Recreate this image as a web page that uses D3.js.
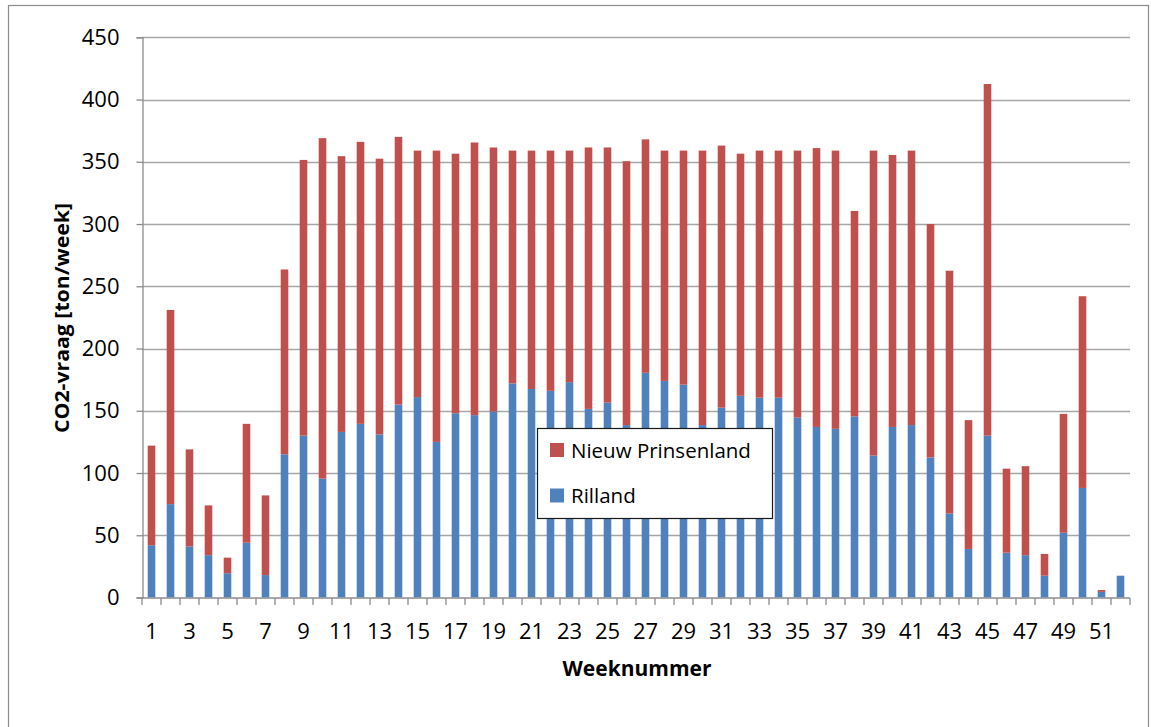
<!DOCTYPE html>
<html>
<head>
<meta charset="utf-8">
<script src="https://cdn.jsdelivr.net/npm/d3@7"></script>
<style>
  html, body { margin: 0; padding: 0; background: #fff; }
  svg { display: block; }
  text { font-family: "Open Sans", "Noto Sans", sans-serif; fill: #000; }
</style>
</head>
<body>
<svg id="chart" width="1151" height="727"></svg>
<script>
// Weekly CO2 demand (ton/week) per location, weeks 1..52
const weeks = d3.range(1, 53);
const rilland = [42, 75, 41, 34, 19.5, 44, 18, 115, 130, 95.5, 133, 139.5, 131, 155, 161, 125, 148, 146.5, 149.5, 172,
                 167.5, 166, 173, 151.5, 156.5, 138.5, 180.5, 174, 171, 138.5, 152.5, 162, 160.5, 160.5, 144.5, 137, 135.5, 145.5, 114, 137,
                 138.5, 112.5, 67.5, 39, 130, 36, 34, 17.5, 52, 88, 4.5, 17.5];
const nieuwPrinsenland = [80, 156, 78, 40, 12.5, 95.5, 64, 148.5, 221.5, 273.5, 221.5, 226.5, 221.5, 215, 198, 234, 208.5, 219, 212, 187,
                          191.5, 193, 186, 210, 205, 212, 187.5, 185, 188, 220.5, 210.5, 194.5, 198.5, 198.5, 214.5, 224, 223.5, 165, 245, 218.5,
                          220.5, 187.5, 195, 103.5, 282.5, 67.5, 71.5, 17.5, 95.5, 154, 1.5, 0];
const yTicks = [0, 50, 100, 150, 200, 250, 300, 350, 400, 450];
const seriesNames = ["Rilland", "Nieuw Prinsenland"];
const seriesColors = ["#4F81BD", "#C0504D"];

const rows = weeks.map((w, i) => ({ week: w, "Rilland": rilland[i], "Nieuw Prinsenland": nieuwPrinsenland[i] }));
const stacked = d3.stack().keys(seriesNames)(rows);

const svg = d3.select("#chart");
const plot = { left: 142, right: 1130, top: 37.3, bottom: 597.5 };

// outer chart frame
svg.append("rect")
  .attr("x", 8.5).attr("y", 5.5).attr("width", 1140).attr("height", 740)
  .attr("fill", "none").attr("stroke", "#8c8c8c").attr("stroke-width", 1.2);

const x = d3.scaleBand().domain(weeks).range([plot.left, plot.right]).paddingInner(0.6).paddingOuter(0.3);
const y = d3.scaleLinear().domain([0, 450]).range([plot.bottom, plot.top]);
const step = x.step();

// horizontal gridlines
svg.append("g").selectAll("line").data(yTicks.filter(d => d > 0)).join("line")
  .attr("x1", plot.left).attr("x2", plot.right)
  .attr("y1", d => Math.round(y(d)) + 0.5).attr("y2", d => Math.round(y(d)) + 0.5)
  .attr("stroke", "#a6a6a6").attr("stroke-width", 1.3);

// stacked bars
svg.append("g").selectAll("g").data(stacked).join("g")
  .attr("fill", (d, i) => seriesColors[i])
  .selectAll("rect").data(d => d).join("rect")
  .attr("x", d => x(d.data.week))
  .attr("width", x.bandwidth())
  .attr("y", d => y(d[1]))
  .attr("height", d => Math.max(0, y(d[0]) - y(d[1])));

// y axis
const yAxis = d3.axisLeft(y).tickValues(yTicks).tickSize(6).tickPadding(17).tickFormat(d3.format("d"));
const gy = svg.append("g").attr("transform", `translate(${plot.left + 0.5},0)`).call(yAxis);
gy.select(".domain").attr("stroke", "#8c8c8c").attr("stroke-width", 1.3);
gy.selectAll(".tick line").attr("stroke", "#8c8c8c").attr("stroke-width", 1.3);
gy.selectAll(".tick text").attr("font-size", 22).attr("font-family", "Open Sans").attr("fill", "#000");

// x axis: labels on odd weeks, tick marks at category boundaries
const gx = svg.append("g").attr("transform", `translate(0,${plot.bottom + 0.5})`);
gx.append("line").attr("x1", plot.left).attr("x2", plot.right).attr("y1", 0).attr("y2", 0)
  .attr("stroke", "#8c8c8c").attr("stroke-width", 1.3);
gx.selectAll("line.tk").data(d3.range(0, 53)).join("line").attr("class", "tk")
  .attr("x1", i => plot.left + i * step).attr("x2", i => plot.left + i * step)
  .attr("y1", 0).attr("y2", 7)
  .attr("stroke", "#8c8c8c").attr("stroke-width", 1.3);
gx.selectAll("text").data(weeks.filter(w => w % 2 === 1)).join("text")
  .attr("x", w => x(w) + x.bandwidth() / 2)
  .attr("y", 41)
  .attr("text-anchor", "middle")
  .attr("font-size", 22)
  .text(d => d);

// axis titles
svg.append("text")
  .attr("transform", "translate(69,318) rotate(-90)")
  .attr("text-anchor", "middle")
  .attr("font-size", 20).attr("font-weight", "bold")
  .attr("textLength", 230).attr("lengthAdjust", "spacingAndGlyphs")
  .text("CO2-vraag [ton/week]");

svg.append("text")
  .attr("x", 637).attr("y", 676)
  .attr("text-anchor", "middle")
  .attr("font-size", 21).attr("font-weight", "bold")
  .text("Weeknummer");

// legend
const lg = svg.append("g");
lg.append("rect").attr("x", 537.5).attr("y", 428.5).attr("width", 235).attr("height", 90)
  .attr("fill", "#fff").attr("stroke", "#1a1a1a").attr("stroke-width", 1.2);
const legendItems = [
  { name: "Nieuw Prinsenland", color: seriesColors[1], yc: 450 },
  { name: "Rilland", color: seriesColors[0], yc: 495.5 }
];
legendItems.forEach(it => {
  lg.append("rect").attr("x", 550).attr("y", it.yc - 7).attr("width", 14).attr("height", 14).attr("fill", it.color);
  lg.append("text").attr("x", 571).attr("y", it.yc + 7.5)
    .attr("font-size", 20.5).text(it.name);
});
</script>
</body>
</html>
